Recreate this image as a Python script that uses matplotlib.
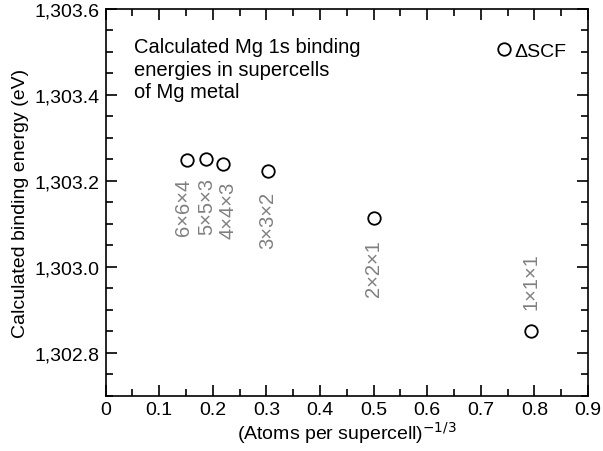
import numpy as np
import matplotlib
matplotlib.use('Agg')
import matplotlib.pyplot as plt
from matplotlib.ticker import MultipleLocator, FuncFormatter

plt.rcParams['font.family'] = ['Liberation Sans', 'DejaVu Sans']
plt.rcParams['mathtext.default'] = 'regular'

# supercell sizes and Mg 1s binding energies (eV)
cells = ['6×6×4', '5×5×3', '4×4×3', '3×3×2', '2×2×1', '1×1×1']
atoms = np.array([288, 150, 96, 36, 8, 2])
x = atoms ** (-1.0 / 3.0)
energy = [1303.249, 1303.250, 1303.240, 1303.222, 1303.114, 1302.851]

# label offsets (points) relative to each marker
offsets = [(-2, -13), (0, -13), (4, -12), (0, -14), (0, -15), (0, 16)]

fig, ax = plt.subplots(figsize=(6.03, 4.52), dpi=100)
ax.plot(x, energy, 'o', mfc='none', mec='black', ms=9, mew=1.3, label='ΔSCF')

for c, xi, yi, off in zip(cells, x, energy, offsets):
    va = 'top' if off[1] < 0 else 'bottom'
    ax.annotate(c, (xi, yi), xytext=off, textcoords='offset points',
                rotation=90, ha='center', va=va, color='#808080', fontsize=14.5)

ax.text(0.058, 0.928, 'Calculated Mg 1s binding\nenergies in supercells\nof Mg metal',
        transform=ax.transAxes, ha='left', va='top', fontsize=14.5, linespacing=1.25)

ax.set_xlim(0, 0.9)
ax.set_ylim(1302.7, 1303.6)
ax.xaxis.set_major_locator(MultipleLocator(0.1))
ax.xaxis.set_minor_locator(MultipleLocator(0.05))
ax.yaxis.set_major_locator(MultipleLocator(0.2))
ax.yaxis.set_minor_locator(MultipleLocator(0.05))
ax.xaxis.set_major_formatter(FuncFormatter(lambda v, p: '0' if abs(v) < 1e-9 else f'{v:.1f}'))
ax.yaxis.set_major_formatter(FuncFormatter(lambda v, p: f'{v:,.1f}'))
ax.tick_params(which='both', direction='in', top=True, right=True, labelsize=14, width=1.2)
ax.tick_params(which='major', length=8, pad=4)
ax.tick_params(which='minor', length=5)
for s in ax.spines.values():
    s.set_linewidth(1.2)

ax.set_xlabel('(Atoms per supercell)$^{\\mathsf{-1/3}}$', fontsize=14, labelpad=1)
ax.set_ylabel('Calculated binding energy (eV)', fontsize=14, labelpad=4)
ax.legend(loc='upper right', bbox_to_anchor=(0.955, 0.914), frameon=False, fontsize=14,
          handletextpad=0.15, handlelength=0.8, borderpad=0, borderaxespad=0)

fig.subplots_adjust(left=0.175, right=0.975, top=0.978, bottom=0.122)
fig.savefig('out.png', dpi=100)
